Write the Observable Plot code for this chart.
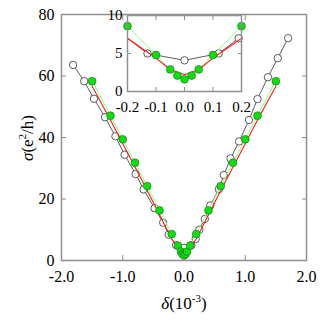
<!DOCTYPE html>
<html><head><meta charset="utf-8">
<script src="https://cdn.jsdelivr.net/npm/d3@7"></script>
<script src="https://cdn.jsdelivr.net/npm/@observablehq/plot@0.6"></script>
<style>
body{margin:0;background:#fff}
#wrap{position:relative;width:327px;height:327px;overflow:hidden}
#wrap svg{position:absolute;overflow:visible}
#wrap svg text{font-family:"Liberation Serif","DejaVu Serif","Times New Roman",serif !important}
</style></head><body><div id="wrap"></div>
<script>
// open-circle series
const openX = [-1.81,-1.63,-1.47,-1.29,-1.12,-0.97,-0.79,-0.66,-0.48,-0.34,-0.25,-0.13,0.00,0.12,0.19,0.25,0.34,0.43,0.57,0.65,0.76,0.90,1.06,1.20,1.37,1.53,1.70];
const openY = [63.6,58.3,52.6,46.6,40.4,34.4,28.1,23.1,17.0,12.3,8.4,5.0,4.1,5.0,7.0,10.0,13.5,17.9,23.2,27.8,33.2,38.7,45.7,52.5,59.6,65.8,72.3];
// green filled-circle series
const greenX = [-1.5,-1.2,-1.0,-0.8,-0.6,-0.4,-0.2,-0.1,-0.05,-0.025,0,0.025,0.05,0.1,0.2,0.4,0.6,0.8,1.0,1.2,1.5];
const greenY = [58.3,47.1,39.4,31.8,24.2,16.3,8.6,4.8,2.9,2.1,1.6,2.1,2.9,4.8,8.6,16.3,24.2,31.8,39.4,47.1,58.3];
// red line
const redX = [-1.5,-1.2,-1.0,-0.8,-0.6,-0.4,-0.2,-0.15,-0.1,-0.05,0,0.05,0.1,0.15,0.2,0.4,0.6,0.8,1.0,1.2,1.5];
const redY = [56.7,45.7,38.0,30.4,22.8,14.9,7.0,5.7,4.4,2.9,2.2,2.9,4.4,5.7,7.0,14.9,22.8,30.4,38.0,45.7,56.7];
// ticks
const xTicks = [-2,-1,0,1,2];
const yTicks = [0,20,40,60,80];
const insetXTicks = [-0.2,-0.1,0,0.1,0.2];
const insetYTicks = [0,5,10];

const openData = openX.map((x,i)=>({x, y: openY[i]}));
const greenData = greenX.map((x,i)=>({x, y: greenY[i]}));
const redData = redX.map((x,i)=>({x, y: redY[i]}));

const font = "Liberation Serif, DejaVu Serif, serif";
const gray = "#8f8f8f";
const greenFill = "#11dd11";
const greenLine = "#88ff88";

function seriesMarks(clip, filterOpen) {
  const od = filterOpen ? openData.filter(d => Math.abs(d.x) <= 0.2) : openData;
  return [
    Plot.line(openData, {x:"x", y:"y", stroke:"#333", strokeWidth:0.8, clip}),
    Plot.dot(od, {x:"x", y:"y", r:3.7, fill:"white", stroke:"#333", strokeWidth:0.8}),
    Plot.line(greenData, {x:"x", y:"y", stroke:greenLine, strokeWidth:1, clip}),
    Plot.line(redData, {x:"x", y:"y", stroke:"#ff1a1a", strokeWidth:1.1, clip}),
    Plot.dot(filterOpen ? greenData.filter(d=>Math.abs(d.x)<=0.2) : greenData, {x:"x", y:"y", r:3.9, fill:greenFill, stroke:"#226622", strokeWidth:0.6})
  ];
}

const main = Plot.plot({
  width: 327, height: 327,
  marginLeft: 61, marginRight: 21, marginTop: 14, marginBottom: 67,
  style: {fontFamily: font, fontSize: "16px", color: "#000", background: "transparent"},
  x: {domain: [-2, 2]},
  y: {domain: [0, 80]},
  marks: [
    Plot.axisX({ticks: xTicks, tickFormat: d => d.toFixed(1), tickSize: -5, tickPadding: 15, stroke: gray, fill: "#000", label: null}),
    Plot.axisX({anchor: "top", ticks: xTicks, tickSize: -5, stroke: gray, fill: "none", label: null}),
    Plot.axisY({ticks: yTicks, tickFormat: d => String(d), tickSize: -5, tickPadding: 12, stroke: gray, fill: "#000", label: null}),
    Plot.axisY({anchor: "right", ticks: yTicks, tickSize: -5, stroke: gray, fill: "none", label: null}),
    ...seriesMarks(false, false),
    Plot.frame({stroke: gray, strokeWidth: 1.5})
  ]
});

const ms = d3.select(main);
const xl = ms.append("text").attr("x", 184).attr("y", 309).attr("text-anchor", "middle")
  .attr("font-size", 17).attr("fill", "#000");
xl.append("tspan").attr("font-style", "italic").text("δ");
xl.append("tspan").text("(10");
xl.append("tspan").attr("dy", -7).attr("font-size", 11).text("-3");
xl.append("tspan").attr("dy", 7).text(")");

const yl = ms.append("text").attr("transform", "translate(33,138) rotate(-90)").attr("text-anchor", "middle")
  .attr("font-size", 17).attr("fill", "#000");
yl.append("tspan").attr("font-style", "italic").text("σ");
yl.append("tspan").text("(e");
yl.append("tspan").attr("dy", -7).attr("font-size", 11).text("2");
yl.append("tspan").attr("dy", 7).text("/h)");

const inset = Plot.plot({
  width: 160, height: 115,
  marginLeft: 32, marginRight: 14, marginTop: 15, marginBottom: 24,
  style: {fontFamily: font, fontSize: "15px", color: "#000", background: "transparent"},
  x: {domain: [-0.2, 0.2]},
  y: {domain: [0, 10]},
  marks: [
    Plot.frame({fill: "white", stroke: "none"}),
    Plot.axisX({ticks: insetXTicks, tickFormat: d => d.toFixed(1), tickSize: -4, tickPadding: 14, stroke: gray, fill: "#000", label: null}),
    Plot.axisX({anchor: "top", ticks: insetXTicks, tickSize: -4, stroke: gray, fill: "none", label: null}),
    Plot.axisY({ticks: insetYTicks, tickFormat: d => String(d), tickSize: -4, tickPadding: 9, stroke: gray, fill: "#000", label: null}),
    Plot.axisY({anchor: "right", ticks: insetYTicks, tickSize: -4, stroke: gray, fill: "none", label: null}),
    ...seriesMarks(true, true),
    Plot.frame({stroke: gray, strokeWidth: 1.5})
  ]
});

const wrap = document.getElementById("wrap");
main.style.left = "0px"; main.style.top = "0px";
inset.style.left = "95px"; inset.style.top = "0px";
wrap.appendChild(main);
wrap.appendChild(inset);
</script></body></html>
